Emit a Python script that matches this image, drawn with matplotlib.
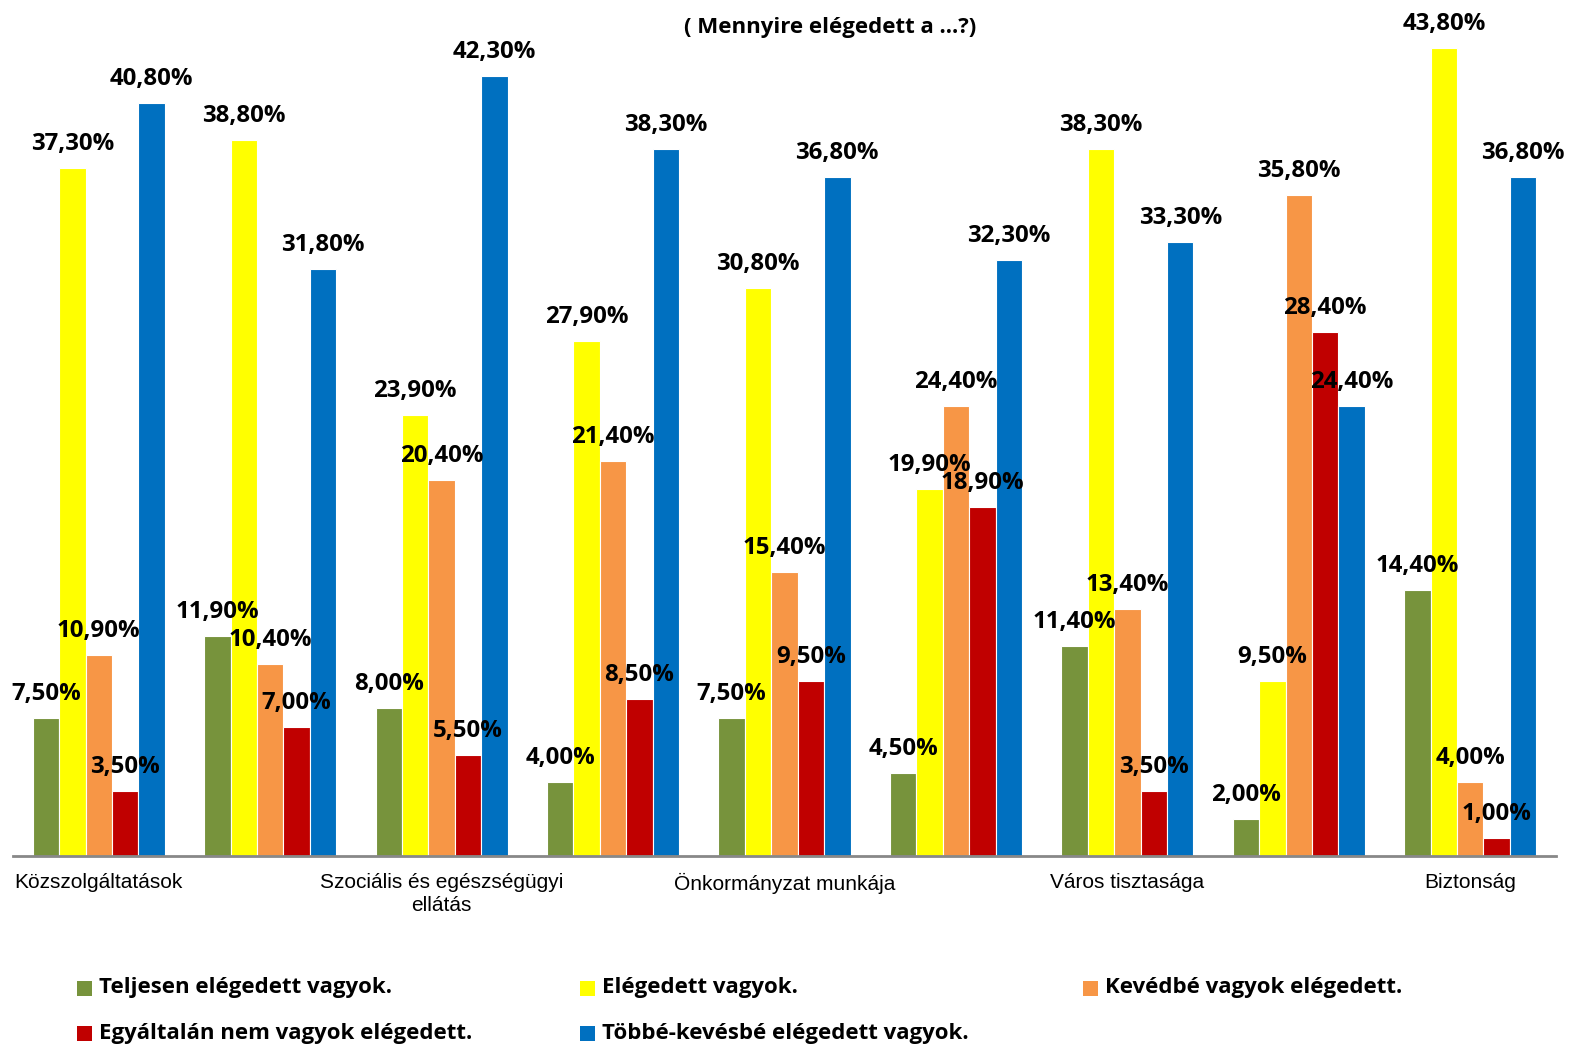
import matplotlib
matplotlib.use("Agg")
import matplotlib.pyplot as plt
from matplotlib.patches import Rectangle
import numpy as np

categories = ["Közszolgáltatások", "", "Szociális és egészségügyi\nellátás", "",
              "Önkormányzat munkája", "", "Város tisztasága", "", "Biztonság"]
series_names = ["Teljesen elégedett vagyok.", "Elégedett vagyok.", "Kevédbé vagyok elégedett.",
                "Egyáltalán nem vagyok elégedett.", "Többé-kevésbé elégedett vagyok."]
teljesen = [7.5, 11.9, 8.0, 4.0, 7.5, 4.5, 11.4, 2.0, 14.4]
elegedett = [37.3, 38.8, 23.9, 27.9, 30.8, 19.9, 38.3, 9.5, 43.8]
kevesbe = [10.9, 10.4, 20.4, 21.4, 15.4, 24.4, 13.4, 35.8, 4.0]
egyaltalan = [3.5, 7.0, 5.5, 8.5, 9.5, 18.9, 3.5, 28.4, 1.0]
tobbe = [40.8, 31.8, 42.3, 38.3, 36.8, 32.3, 33.3, 24.4, 36.8]
series = [teljesen, elegedett, kevesbe, egyaltalan, tobbe]
colors = ["#77933C", "#FFFF00", "#F79646", "#C00000", "#0070C0"]

LBL = "Open Sans"
fig = plt.figure(figsize=(15.81, 10.56), dpi=100)
ax = fig.add_axes([13/1581, 200/1056, 1543/1581, 836/1056])
ax.set_xlim(-0.5, 8.5)
ax.set_ylim(0, 836/18.45)

x = np.arange(len(categories))
w = 0.154
for j, (vals, c) in enumerate(zip(series, colors)):
    xs = x + (j - 2) * w
    ax.bar(xs, vals, width=w, color=c, edgecolor="white", linewidth=0.8, zorder=2)
for j, (vals, c) in enumerate(zip(series, colors)):
    xs = x + (j - 2) * w
    for xi, v in zip(xs, vals):
        ax.annotate(f"{v:.2f}%".replace(".", ","), (xi, v), xytext=(0, 18),
                    textcoords="offset pixels", ha="center", va="baseline",
                    fontsize=17.3, fontweight="bold", family=LBL, color="black",
                    zorder=5, annotation_clip=False)

for s in ["top", "right", "left"]:
    ax.spines[s].set_visible(False)
ax.spines["bottom"].set_color("#888888")
ax.spines["bottom"].set_linewidth(2)
ax.set_yticks([])
ax.set_xticks(x)
ax.set_xticklabels(categories, family="Liberation Sans", fontsize=15, linespacing=1.3)
ax.tick_params(axis="x", length=0, pad=12)

fig.text(830/1581, 1 - 28/1056, "( Mennyire elégedett a ...?)", ha="center", va="center",
         fontsize=16, fontweight="bold", family=LBL)

# legend
pos = [(77, 988), (580, 988), (1083, 988), (77, 1033), (580, 1033)]
for (px, py), name, c in zip(pos, series_names, colors):
    fig.patches.append(Rectangle((px/1581, 1 - (py + 7.5)/1056), 15/1581, 15/1056,
                                 transform=fig.transFigure, facecolor=c, edgecolor="none"))
    fig.text((px + 22)/1581, 1 - py/1056, name, ha="left", va="center",
             fontsize=16, fontweight="bold", family=LBL)

fig.savefig("out.png", dpi=100)
